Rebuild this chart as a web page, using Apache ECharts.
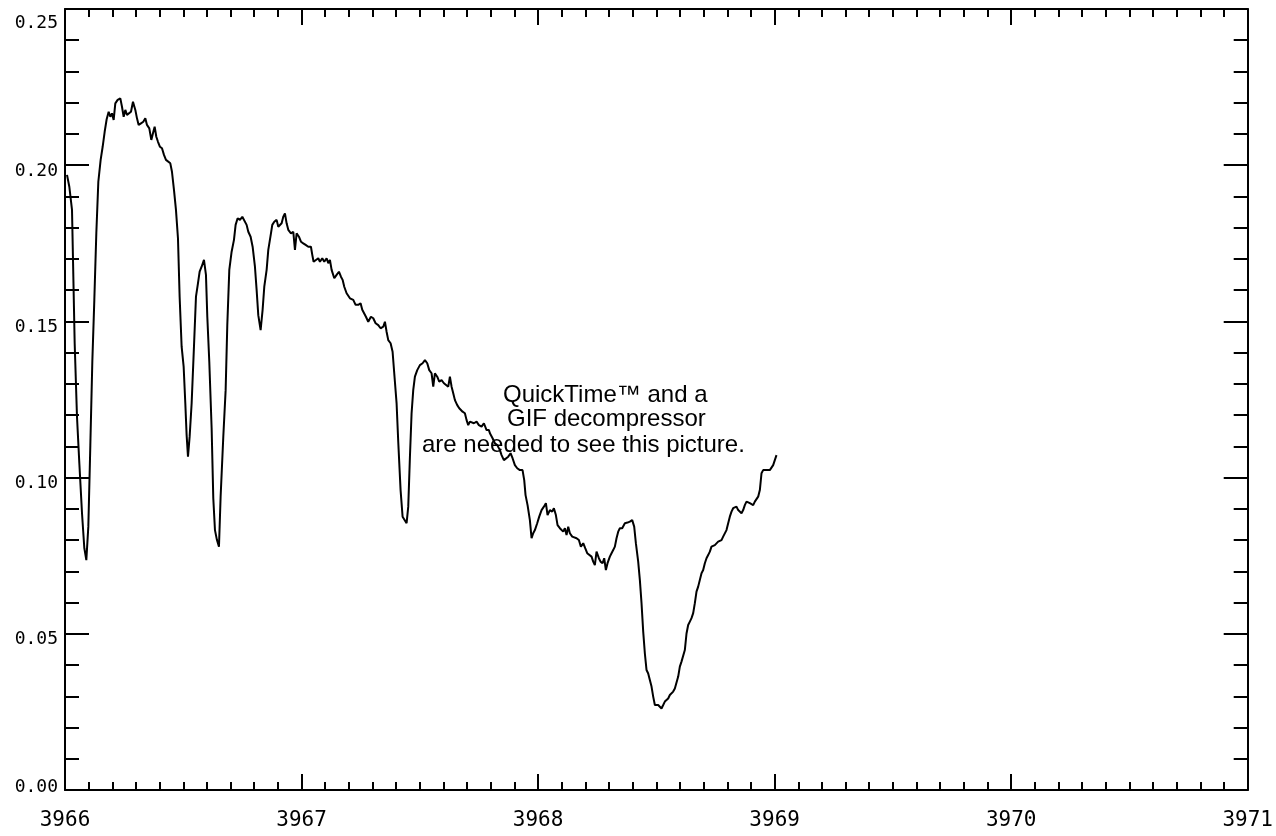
<!DOCTYPE html>
<html>
<head>
<meta charset="utf-8">
<script src="https://cdn.jsdelivr.net/npm/echarts@6/dist/echarts.min.js"></script>
<style>
html,body{margin:0;padding:0;background:#fff;}
#chart{width:1276px;height:836px;}
</style>
</head>
<body>
<div id="chart"></div>
<script>
// Wavelength (Angstrom) and flux values
const wavelength = [
3966.0085,3966.0183,3966.0296,3966.0409,3966.0507,3966.0606,3966.0719,3966.0817,3966.0902,3966.0986,
3966.1071,3966.1155,3966.1240,3966.1324,3966.1409,3966.1507,3966.1592,3966.1677,3966.1761,3966.1846,
3966.1916,3966.1986,3966.2057,3966.2127,3966.2226,3966.2339,3966.2409,3966.2480,3966.2550,3966.2620,
3966.2691,3966.2790,3966.2874,3966.2973,3966.3043,3966.3114,3966.3212,3966.3311,3966.3395,3966.3466,
3966.3564,3966.3649,3966.3719,3966.3790,3966.3860,3966.3931,3966.4015,3966.4100,3966.4184,3966.4269,
3966.4353,3966.4452,3966.4522,3966.4607,3966.4691,3966.4776,3966.4846,3966.4931,3966.5016,3966.5086,
3966.5142,3966.5199,3966.5269,3966.5354,3966.5452,3966.5537,3966.5621,3966.5692,
3966.5776,3966.5875,3966.5959,3966.6016,3966.6100,3966.6199,3966.6269,3966.6340,3966.6424,3966.6509,
3966.6579,3966.6692,3966.6791,3966.6861,3966.6946,3966.7044,3966.7143,3966.7213,3966.7298,3966.7397,
3966.7496,3966.7580,3966.7678,3966.7749,3966.7847,3966.7932,3966.8030,3966.8101,3966.8171,3966.8270,
3966.8354,3966.8425,3966.8524,3966.8594,3966.8707,3966.8763,3966.8848,3966.8946,3966.9017,3966.9087,
3966.9158,3966.9228,3966.9298,3966.9369,3966.9439,3966.9552,3966.9651,3966.9721,3966.9792,3966.9890,
3966.9975,3967.0073,3967.0172,3967.0285,3967.0397,3967.0454,3967.0510,3967.0594,3967.0707,3967.0778,
3967.0876,3967.0961,3967.1060,3967.1130,3967.1200,3967.1271,3967.1384,3967.1482,3967.1581,3967.1666,
3967.1736,3967.1806,
3967.1905,3967.2046,3967.2187,3967.2285,3967.2398,3967.2496,3967.2567,3967.2651,3967.2722,3967.2820,
3967.2933,3967.3032,3967.3131,3967.3243,3967.3342,3967.3455,3967.3525,3967.3595,3967.3666,3967.3765,
3967.3849,3967.3919,3967.4018,3967.4088,3967.4187,3967.4272,3967.4342,3967.4441,3967.4511,3967.4582,
3967.4652,3967.4722,3967.4793,3967.4891,3967.5004,3967.5117,3967.5216,3967.5314,3967.5399,3967.5497,
3967.5568,3967.5638,3967.5737,3967.5821,3967.5920,3967.6019,3967.6103,3967.6202,3967.6272,3967.6343,
3967.6413,3967.6484,3967.6582,3967.6667,3967.6723,3967.6808,3967.6906,3967.6977,3967.7047,3967.7118,
3967.7188,3967.7287,3967.7399,3967.7498,3967.7611,3967.7709,3967.7822,3967.7921,
3967.7963,3967.8076,3967.8174,3967.8273,3967.8386,3967.8456,3967.8555,3967.8639,3967.8738,3967.8836,
3967.8921,3967.9019,3967.9118,3967.9231,3967.9343,3967.9414,3967.9470,3967.9555,3967.9653,3967.9724,
3967.9794,3967.9865,3967.9963,3968.0048,3968.0147,3968.0245,3968.0330,3968.0400,3968.0499,3968.0597,
3968.0668,3968.0752,3968.0823,3968.0921,3968.0992,3968.1062,3968.1133,3968.1203,3968.1274,3968.1344,
3968.1443,3968.1527,3968.1626,3968.1724,3968.1809,3968.1908,3968.1992,3968.2077,3968.2161,3968.2260,
3968.2330,3968.2400,3968.2471,3968.2570,3968.2640,3968.2725,3968.2795,3968.2866,3968.2936,3968.3034,
3968.3105,3968.3175,3968.3246,3968.3316,3968.3387,3968.3457,3968.3556,3968.3669,3968.3781,
3968.3880,3968.3979,3968.4063,3968.4134,3968.4232,3968.4303,3968.4373,3968.4444,3968.4514,3968.4585,
3968.4655,3968.4725,3968.4796,3968.4866,3968.4937,3968.5007,3968.5077,3968.5148,3968.5218,3968.5289,
3968.5359,3968.5430,3968.5500,3968.5570,3968.5641,3968.5711,3968.5782,3968.5852,3968.5923,3968.5993,
3968.6063,3968.6134,3968.6204,3968.6275,3968.6345,3968.6416,3968.6486,3968.6557,3968.6627,3968.6697,
3968.6768,3968.6838,3968.6909,3968.6979,3968.7050,3968.7120,3968.7190,3968.7261,3968.7331,3968.7402,
3968.7472,3968.7543,3968.7613,3968.7684,3968.7754,3968.7824,3968.7895,3968.7965,3968.8036,3968.8106,
3968.8177,3968.8247,3968.8318,3968.8388,3968.8459,3968.8529,3968.8600,3968.8670,3968.8740,3968.8811,
3968.8881,3968.8952,3968.9022,3968.9093,3968.9163,3968.9234,3968.9304,3968.9375,3968.9445,3968.9515,
3968.9656,3968.9797,3968.9868,3968.9938,3969.0008,3969.0079
];
const flux = [
0.1969,0.1931,0.1857,0.1430,0.1195,0.1046,0.0886,0.0774,0.0736,0.0843,
0.1104,0.1371,0.1569,0.1782,0.1947,0.2017,0.2059,0.2107,0.2147,0.2171,
0.2155,0.2166,0.2145,0.2198,0.2209,0.2214,0.2187,0.2155,0.2177,0.2161,
0.2155,0.2171,0.2203,0.2177,0.2150,0.2129,0.2134,0.2139,0.2150,0.2129,
0.2118,0.2081,0.2102,0.2123,0.2091,0.2075,0.2059,0.2054,0.2033,0.2017,
0.2011,0.2006,0.1979,0.1921,0.1857,0.1766,0.1579,0.1419,0.1355,0.1238,
0.1136,0.1067,0.1131,0.1238,0.1419,0.1579,0.1622,0.1659,
0.1675,0.1697,0.1649,0.1515,0.1371,0.1158,0.0934,0.0832,0.0800,0.0779,
0.0939,0.1131,0.1280,0.1488,0.1665,0.1723,0.1761,0.1809,0.1830,0.1825,
0.1835,0.1835,0.1809,0.1787,0.1771,0.1739,0.1675,0.1601,0.1520,0.1472,
0.1537,0.1611,0.1665,0.1729,0.1782,0.1809,0.1819,0.1825,0.1803,0.1798,
0.1814,0.1835,0.1846,0.1814,0.1793,0.1782,0.1787,0.1729,0.1782,0.1771,
0.1755,0.1750,0.1745,0.1739,0.1739,0.1713,0.1691,0.1697,0.1702,0.1691,
0.1702,0.1691,0.1702,0.1686,0.1697,0.1665,0.1638,0.1649,0.1659,0.1643,
0.1633,0.1611,
0.1590,0.1574,0.1569,0.1553,0.1553,0.1558,0.1537,0.1542,0.1515,0.1499,
0.1515,0.1510,0.1494,0.1488,0.1478,0.1483,0.1499,0.1467,0.1440,0.1430,
0.1403,0.1334,0.1238,0.1115,0.0960,0.0875,0.0870,0.0854,0.0907,0.1067,
0.1206,0.1280,0.1323,0.1344,0.1360,0.1366,0.1376,0.1366,0.1344,0.1334,
0.1291,0.1334,0.1323,0.1307,0.1312,0.1302,0.1307,0.1291,0.1323,0.1291,
0.1270,0.1248,0.1232,0.1222,0.1227,0.1211,0.1206,0.1184,0.1168,0.1179,
0.1174,0.1174,0.1179,0.1168,0.1163,0.1174,0.1152,0.1152,
0.1142,0.1126,0.1110,0.1104,0.1088,0.1072,0.1056,0.1051,0.1067,0.1078,
0.1062,0.1040,0.1030,0.1024,0.1024,0.0992,0.0944,0.0912,0.0864,0.0806,
0.0822,0.0832,0.0854,0.0875,0.0896,0.0907,0.0918,0.0880,0.0896,0.0891,
0.0902,0.0880,0.0848,0.0838,0.0843,0.0827,0.0838,0.0816,0.0843,0.0822,
0.0811,0.0816,0.0806,0.0800,0.0779,0.0790,0.0774,0.0758,0.0763,0.0747,
0.0731,0.0720,0.0763,0.0742,0.0731,0.0726,0.0742,0.0704,0.0726,0.0747,
0.0758,0.0768,0.0779,0.0806,0.0827,0.0838,0.0838,0.0854,0.0856,
0.0859,0.0864,0.0843,0.0790,0.0731,0.0672,0.0598,0.0507,0.0437,0.0384,
0.0373,0.0352,0.0331,0.0299,0.0272,0.0277,0.0272,0.0267,0.0261,0.0272,
0.0283,0.0277,0.0293,0.0304,0.0299,0.0315,0.0325,0.0331,0.0363,0.0395,
0.0411,0.0416,0.0448,0.0501,0.0528,0.0539,0.0550,0.0566,0.0598,0.0635,
0.0651,0.0656,0.0694,0.0704,0.0726,0.0742,0.0752,0.0763,0.0779,0.0779,
0.0784,0.0779,0.0795,0.0795,0.0800,0.0811,0.0816,0.0832,0.0854,0.0875,
0.0891,0.0902,0.0896,0.0907,0.0896,0.0902,0.0886,0.0896,0.0912,0.0923,
0.0928,0.0918,0.0923,0.0912,0.0923,0.0928,0.0939,0.0960,0.1014,0.1024,
0.1024,0.1024,0.1030,0.1040,0.1056,0.1072
];
const xTicks = [3966, 3967, 3968, 3969, 3970, 3971];
const yTicks = [0.00, 0.05, 0.10, 0.15, 0.20, 0.25];
const noteLines = ["QuickTime\u2122 and a", "GIF decompressor", "are needed to see this picture."];

const points = wavelength.map((w, i) => [w, flux[i]]);
const chart = echarts.init(document.getElementById('chart'));
const axisCol = '#000';
const yFont = {fontFamily: '"DejaVu Sans Mono", monospace', fontSize: 18, color: '#000'};

function xAxisDef(pos, showLabel) {
  return {
    type: 'value', position: pos,
    min: xTicks[0], max: xTicks[xTicks.length - 1], interval: 1,
    axisLine: {show: true, onZero: false, lineStyle: {color: axisCol, width: 2}},
    axisTick: {show: true, inside: true, length: 16, lineStyle: {color: axisCol, width: 2}},
    minorTick: {show: true, splitNumber: 10, length: 8, lineStyle: {color: axisCol, width: 2}},
    splitLine: {show: false},
    axisLabel: {show: showLabel, margin: 20, fontFamily: '"DejaVu Sans Mono", monospace', fontSize: 21, color: '#000',
      formatter: v => String(Math.round(v))}
  };
}
function yAxisDef(pos, showLabel) {
  return {
    type: 'value', position: pos,
    min: yTicks[0], max: yTicks[yTicks.length - 1], interval: 0.05,
    axisLine: {show: true, onZero: false, lineStyle: {color: axisCol, width: 2}},
    axisTick: {show: true, inside: true, length: 24, lineStyle: {color: axisCol, width: 2}},
    minorTick: {show: true, splitNumber: 5, length: 14, lineStyle: {color: axisCol, width: 2}},
    splitLine: {show: false},
    axisLabel: {show: showLabel, margin: 7, fontFamily: yFont.fontFamily, fontSize: 18, color: '#000',
      formatter: v => {
        const s = v.toFixed(2);
        if (v > 0.249) return '{t|' + s + '}';
        if (v < 0.001) return '{b|' + s + '}';
        return '{m|' + s + '}';
      },
      rich: {
        t: Object.assign({padding: [28, 0, 0, 0]}, yFont),
        m: Object.assign({padding: [12, 0, 0, 0]}, yFont),
        b: Object.assign({padding: [0, 0, 6, 0]}, yFont)
      }
    }
  };
}

const noteX = [503, 507, 422];
const noteY = [395, 419, 445];

chart.setOption({
  animation: false,
  backgroundColor: '#fff',
  grid: {left: 65, right: 28, top: 9, bottom: 46},
  xAxis: [xAxisDef('bottom', true), xAxisDef('top', false)],
  yAxis: [yAxisDef('left', true), yAxisDef('right', false)],
  series: [{
    type: 'line', data: points, xAxisIndex: 0, yAxisIndex: 0,
    showSymbol: false, symbol: 'none',
    lineStyle: {color: '#000', width: 2},
    silent: true
  }],
  graphic: noteLines.map((t, i) => ({
    type: 'text', x: noteX[i], y: noteY[i], z: 100,
    style: {text: t, fill: '#000', font: '24px "Liberation Sans", Arial, sans-serif',
      textAlign: 'left', textVerticalAlign: 'middle', align: 'left', verticalAlign: 'middle'}
  }))
});
</script>
</body>
</html>
